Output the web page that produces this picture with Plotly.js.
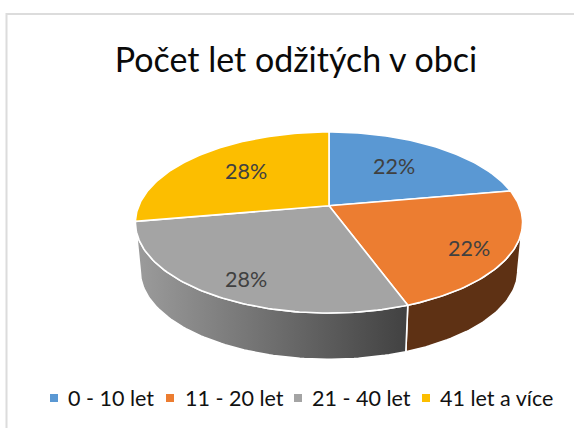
<!DOCTYPE html>
<html>
<head>
<meta charset="utf-8">
<script src="https://cdn.plot.ly/plotly-3.0.1.min.js"></script>
<style>html,body{margin:0;padding:0;background:#fff}#chart{width:574px;height:428px}</style>
</head>
<body>
<div id="chart"></div>
<script>
// Data
const chartTitle = 'Počet let odžitých v obci';
const categories = ['0 - 10 let', '11 - 20 let', '21 - 40 let', '41 let a více'];
const values = [8, 8, 10, 10];
const topColors = ['#5a98d3', '#ec7d31', '#a4a4a4', '#fcbe00'];

// 3D view of the disc
const cx = 329, cy = 205.7, A = 190.2, B = 87.4, k = 0.1857, depth = 49, baseScale = 0.975;
const labelX = [393.5, 469, 246, 246], labelY = [166, 248, 279, 171];
const fontName = 'Lato, Carlito, sans-serif';

function project(t, r, low) {
  const X = r * Math.sin(t), Y = r * Math.cos(t), w = 1 + k * Y;
  const s = low ? baseScale : 1;
  return [cx + s * A * X / w, cy + (low ? depth : 0) - s * B * Y / w];
}
function arc(t0, t1, low) {
  const n = Math.max(2, Math.ceil(Math.abs(t1 - t0) / 0.02));
  const pts = [];
  for (let i = 0; i <= n; i++) pts.push(project(t0 + (t1 - t0) * i / n, 1, low));
  return pts;
}
function trace(pts, extra) {
  return Object.assign({
    type: 'scatter', mode: 'lines', fill: 'toself',
    x: pts.map(p => p[0]), y: pts.map(p => p[1]),
    hoverinfo: 'skip', showlegend: false,
    line: {color: '#ffffff', width: 1.6}
  }, extra);
}

const total = values.reduce((a, b) => a + b, 0);
const bounds = [0];
values.forEach(v => bounds.push(bounds[bounds.length - 1] + v / total * 2 * Math.PI));

// visible wall runs between the two silhouette angles
const tRight = Math.acos(-k), tLeft = 2 * Math.PI - tRight;
const traces = [];
const wallStyle = [
  null,
  {fillcolor: '#5e3114'},
  {fillgradient: {type: 'horizontal', colorscale: [[0, '#9c9c9c'], [1, '#414141']]}},
  null
];
values.forEach((v, i) => {
  const a = Math.max(bounds[i], tRight), b = Math.min(bounds[i + 1], tLeft);
  if (b <= a) return;
  const pts = arc(a, b, false).concat(arc(b, a, true));
  pts.push(pts[0]);
  traces.push(trace(pts, Object.assign({}, wallStyle[i] || {fillcolor: topColors[i]})));
});
values.forEach((v, i) => {
  const pts = [[cx, cy]].concat(arc(bounds[i], bounds[i + 1], false));
  pts.push([cx, cy]);
  traces.push(trace(pts, {fillcolor: topColors[i], name: categories[i]}));
});

// percentage labels
const annotations = values.map((v, i) => ({
  x: labelX[i], y: labelY[i], xref: 'x', yref: 'y', showarrow: false,
  text: Math.round(v / total * 100) + '%',
  font: {family: fontName, size: 21.5, color: '#404040'}
}));

// legend row
const legendSwatchX = [50, 166, 294, 422], legendTextX = [66, 183, 310, 438], legendY = 398;
const shapes = [
  {type: 'line', xref: 'x', yref: 'y', x0: 6.5, x1: 6.5, y0: 13, y1: 428, line: {color: '#dcdcdc', width: 2}},
  {type: 'line', xref: 'x', yref: 'y', x0: 6, x1: 574, y0: 14, y1: 14, line: {color: '#dcdcdc', width: 2}}
];
categories.forEach((c, i) => {
  annotations.push({x: legendTextX[i], y: legendY, xref: 'x', yref: 'y', xanchor: 'left', showarrow: false,
    text: c, font: {family: fontName, size: 21.5, color: '#111111'}});
  shapes.push({type: 'rect', xref: 'x', yref: 'y', x0: legendSwatchX[i], x1: legendSwatchX[i] + 8,
    y0: legendY - 4, y1: legendY + 4, fillcolor: topColors[i], line: {width: 0}});
});

const layout = {
  width: 574, height: 428,
  margin: {l: 0, r: 0, t: 0, b: 0},
  paper_bgcolor: '#ffffff', plot_bgcolor: '#ffffff',
  showlegend: false,
  title: {text: chartTitle, x: 296 / 574, xanchor: 'center', y: 1 - 60 / 428, yanchor: 'middle',
    font: {family: fontName, size: 34, color: '#0a0a0a'}},
  xaxis: {range: [0, 574], visible: false, fixedrange: true},
  yaxis: {range: [428, 0], visible: false, fixedrange: true},
  annotations, shapes
};
Plotly.newPlot('chart', traces, layout, {displayModeBar: false, staticPlot: true});
</script>
</body>
</html>
